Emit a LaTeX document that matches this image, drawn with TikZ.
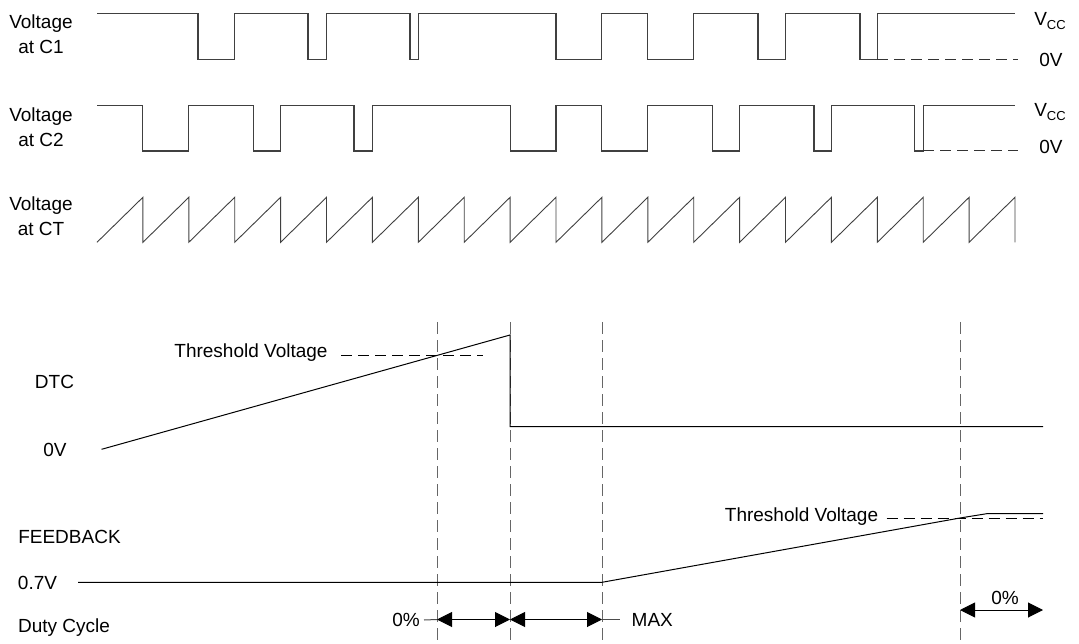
\documentclass[tikz,border=0pt]{standalone}
\usepackage{fontspec}
\setmainfont{Liberation Sans}
\usetikzlibrary{arrows.meta}
\begin{document}
\begin{tikzpicture}[x=1pt,y=-1pt,
  lbl/.style={inner sep=0pt, font=\fontsize{19}{25}\selectfont, align=center},
  wave/.style={draw=black!75, line width=1.1pt},
  sig/.style={draw=black, line width=1pt},
  thr/.style={draw=black, line width=1pt, dash pattern=on 11pt off 6pt},
  guide/.style={draw=black!60, line width=1pt, dash pattern=on 12pt off 6pt},
  dim/.style={draw=black, line width=1pt, {Triangle[length=15pt,width=15pt]}-{Triangle[length=15pt,width=15pt]}},
  tick/.style={draw=black!70, line width=1pt}]
\useasboundingbox (0,0) rectangle (1079,644);
\def\p{45.9}
% ---------- labels top
\node[lbl] (lc1) at (41,34) {Voltage\\at C1};
\node[lbl] (lc2) at (41,127) {Voltage\\at C2};
\node[lbl] (lct) at (41,216) {Voltage\\at CT};
\node[lbl] (vcc1) at (1050,21) {V\raisebox{-0.35ex}{\fontsize{13}{13}\selectfont CC}};
\node[lbl] (zv1) at (1051,60) {0V};
\node[lbl] (vcc2) at (1050,112) {V\raisebox{-0.35ex}{\fontsize{13}{13}\selectfont CC}};
\node[lbl] (zv2) at (1051,147) {0V};
% ---------- C1
\def\H{13.3}\def\L{59.3}
\draw[wave] (97,\H) -- (198,\H) -- (198,\L) -- (234.7,\L) -- (234.7,\H)
  -- (308,\H) -- (308,\L) -- (326.5,\L) -- (326.5,\H)
  -- (410,\H) -- (410,\L) -- (418.3,\L) -- (418.3,\H)
  -- (556,\H) -- (556,\L) -- (601.9,\L) -- (601.9,\H)
  -- (647.8,\H) -- (647.8,\L) -- (693.7,\L) -- (693.7,\H)
  -- (758,\H) -- (758,\L) -- (785.5,\L) -- (785.5,\H)
  -- (860,\H) -- (860,\L) -- (877.3,\L) -- (877.3,\H) -- (1015,\H);
\draw[thr, draw=black!80] (877.3,\L) -- (1018,\L);
% ---------- C2
\def\H{105.3}\def\L{151}
\draw[wave] (97,\H) -- (142.9,\H) -- (142.9,\L) -- (188.8,\L) -- (188.8,\H)
  -- (253.5,\H) -- (253.5,\L) -- (280.6,\L) -- (280.6,\H)
  -- (354,\H) -- (354,\L) -- (372.4,\L) -- (372.4,\H)
  -- (510.1,\H) -- (510.1,\L) -- (556,\L) -- (556,\H)
  -- (601.9,\H) -- (601.9,\L) -- (647.8,\L) -- (647.8,\H)
  -- (712.6,\H) -- (712.6,\L) -- (739.6,\L) -- (739.6,\H)
  -- (814,\H) -- (814,\L) -- (831.4,\L) -- (831.4,\H)
  -- (914.7,\H) -- (914.7,\L) -- (923.2,\L) -- (923.2,\H) -- (1015,\H);
\draw[thr, draw=black!80] (923.2,\L) -- (1018,\L);
% ---------- CT sawtooth
\draw[wave, line width=0.9pt] (97,242.3)
  \foreach \k in {1,...,20} { -- ({97+\k*\p},197.3) -- ({97+\k*\p},242.3) };
% ---------- guides
\foreach \gx/\gn in {437/ga,510/gb,602/gc,960/gd}{
  \coordinate (\gn t) at (\gx,322);
  \coordinate (\gn b) at (\gx,644);
  \draw[guide] (\gn t) -- (\gn b);
}
% ---------- DTC
\node[lbl] (thl) at (251,353) {Threshold Voltage};
\draw[thr] (341,355) -- (483,355);
\node[lbl] (dtc) at (54.5,382) {DTC};
\node[lbl] (zv3) at (55,450) {0V};
\draw[sig] (101.6,449.3) -- (510,335) -- (510,426.7) -- (1043,426.7);
% ---------- FEEDBACK
\node[lbl] (fb) at (69.5,537) {FEEDBACK};
\node[lbl] (v07) at (37.5,583) {0.7V};
\draw[sig] (78,582.3) -- (602,582.3) -- (960,518) -- (986.7,513.7) -- (1043,513.7);
\node[lbl] (thr2) at (801.5,517) {Threshold Voltage};
\draw[thr] (886.7,518) -- (1043,518);
% ---------- Duty cycle
\node[lbl] (dc) at (64,628) {Duty Cycle};
\node[lbl, anchor=east] (p0a) at (420,620) {0\%};
\coordinate (a1) at (437,619.5);
\coordinate (a2) at (510,619.5);
\coordinate (a3) at (602,619.5);
\draw[tick] (p0a.east) ++(4,0) -- (a1);
\draw[dim] (a1) -- (a2);
\draw[dim] (a2) -- (a3);
\node[lbl, anchor=west] (mx) at (631.5,620) {MAX};
\draw[tick] (a3) -- (620,619.5);
\coordinate (b1) at (960,610);
\coordinate (b2) at (1043,610);
\draw[dim] (b1) -- (b2);
\node[lbl] (p0b) at (1005,598) {0\%};
\end{tikzpicture}
\end{document}
